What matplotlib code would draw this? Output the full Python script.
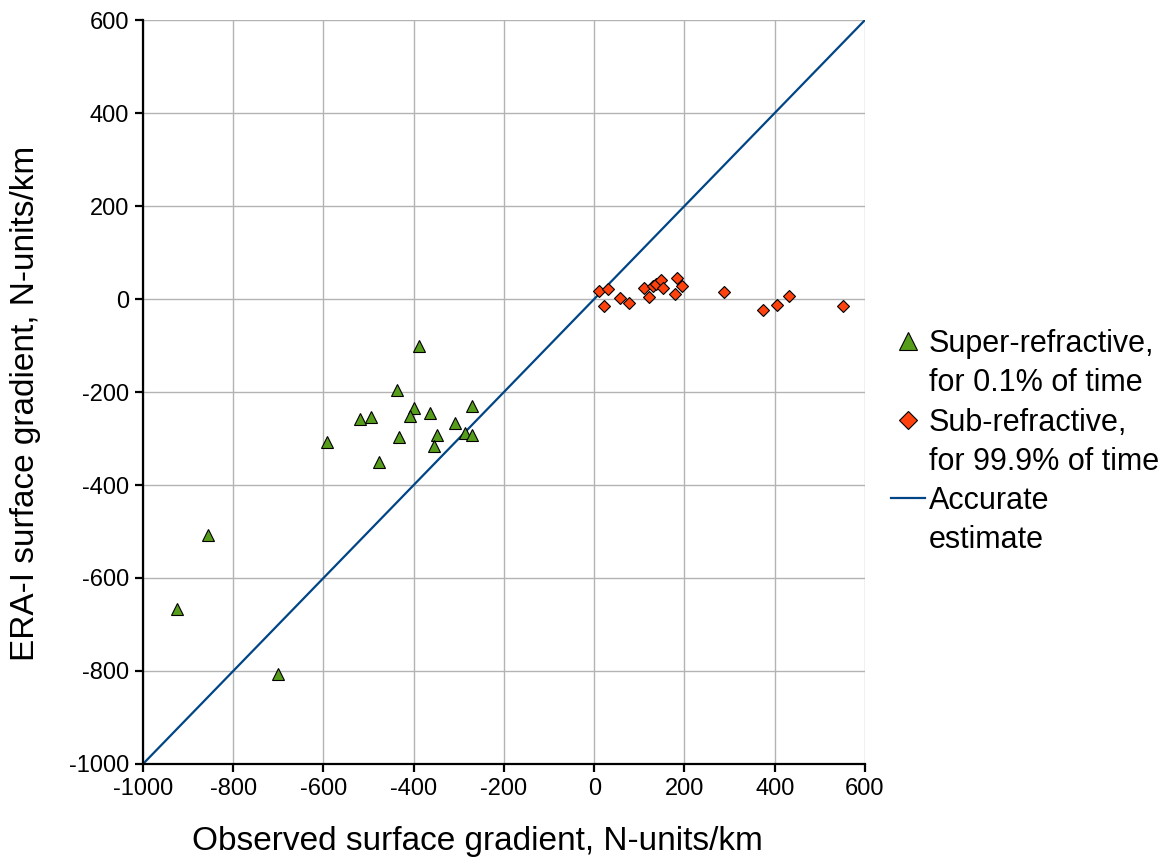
import numpy as np
import matplotlib
matplotlib.use('Agg')
import matplotlib.pyplot as plt
from matplotlib.lines import Line2D

plt.rcParams['font.family'] = ['Liberation Sans', 'DejaVu Sans']
plt.rcParams['axes.unicode_minus'] = False

# super-refractive points (observed, ERA-I)
super_x = [-388, -436, -399, -408, -365, -271, -518, -495, -308, -432,
           -348, -286, -271, -355, -593, -476, -857, -925, -701]
super_y = [-102, -196, -235, -252, -246, -231, -259, -254, -267, -297,
           -293, -289, -293, -316, -307, -350, -507, -667, -807]

# sub-refractive points
sub_x = [10, 31, 21, 58, 78, 111, 122, 131, 137, 147, 152, 184, 194, 180,
         287, 373, 405, 431, 552]
sub_y = [17, 21, -14, 2, -9, 23, 5, 27, 33, 41, 23, 46, 28, 11,
         15, -23, -13, 7, -16]

# 1:1 line
line_x = [-1000, 600]
line_y = [-1000, 600]

labels = [('Super-refractive,', 'for 0.1% of time'),
          ('Sub-refractive,', 'for 99.9% of time'),
          ('Accurate', 'estimate')]

fig = plt.figure(figsize=(11.7, 8.59), dpi=100)
ax = fig.add_axes([0.1222, 0.1106, 0.6171, 0.8661])

h1, = ax.plot(super_x, super_y, linestyle='none', marker='^', markersize=9,
              markerfacecolor='#579D1C', markeredgecolor='black', markeredgewidth=0.8,
              zorder=3)
h2, = ax.plot(sub_x, sub_y, linestyle='none', marker='D', markersize=6.3,
              markerfacecolor='#FF420E', markeredgecolor='black', markeredgewidth=0.8,
              zorder=3)
h3, = ax.plot(line_x, line_y, color='#004586', linewidth=1.6, zorder=2)

ax.set_xlim(-1000, 600)
ax.set_ylim(-1000, 600)
ax.set_xticks(np.arange(-1000, 601, 200))
ax.set_yticks(np.arange(-1000, 601, 200))
ax.grid(True, color='#b3b3b3', linewidth=1.0)
ax.set_axisbelow(True)

for s in ['top', 'right']:
    ax.spines[s].set_visible(False)
for s in ['left', 'bottom']:
    ax.spines[s].set_linewidth(1.6)
    ax.spines[s].set_color('black')
ax.tick_params(direction='out', length=6, width=1.6, labelsize=17, pad=4)

ax.set_xlabel('Observed surface gradient, N-units/km', fontsize=24)
ax.set_ylabel('ERA-I surface gradient, N-units/km', fontsize=24)
ax.xaxis.set_label_coords(0.4626, -0.084)
ax.yaxis.set_label_coords(-0.141, 0.485)

# legend: second line of each label as its own row with an empty handle
blank = Line2D([], [], linestyle='none', marker=None)
handles, texts = [], []
for h, (a, b) in zip([h1, h2, h3], labels):
    handles += [h, blank]
    texts += [a, b]

leg = fig.legend(handles, texts, loc='upper left', bbox_to_anchor=(0.751, 0.631),
                 frameon=False, fontsize=22, handlelength=1.1, handletextpad=0.15,
                 labelspacing=0.3, borderaxespad=0, markerscale=1.4)

fig.savefig('out.png', dpi=100)
